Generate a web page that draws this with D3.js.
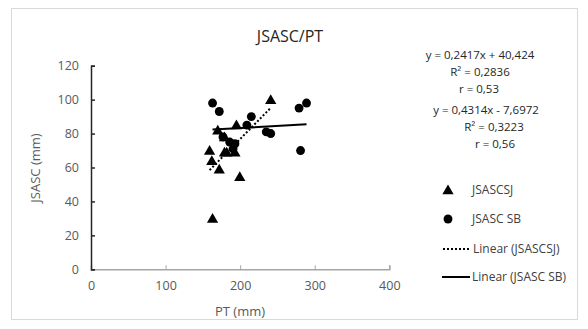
<!DOCTYPE html>
<html><head><meta charset="utf-8">
<script src="https://cdn.jsdelivr.net/npm/d3@7"></script>
<style>body{margin:0;background:#fff}text{font-family:"Open Sans",sans-serif}</style>
</head><body><svg id="c" width="588" height="329"></svg>
<script>
const title = "JSASC/PT";
const xTicks = [0,100,200,300,400];
const yTicks = [0,20,40,60,80,100,120];
const sjPT  = [159,162,163,170,172,179,179,182,193,195,199.5,241];
const sjVal = [70,64,30,82,59,78,69,69,69,85,54.5,100];
const sbPT  = [163,172,177,186,190.5,193,209,215,235,241,279,281,289];
const sbVal = [98,93,78,75,71,74,85,90,81,80,95,70,98];
const eqSJ = ["y = 0,2417x + 40,424","R² = 0,2836","r = 0,53"];
const eqSB = ["y = 0,4314x - 7,6972","R² = 0,3223","r = 0,56"];
const legendLabels = ["JSASCSJ","JSASC SB","Linear (JSASCSJ)","Linear (JSASC SB)"];

const svg = d3.select("#c");
svg.append("rect").attr("x",11.5).attr("y",8.5).attr("width",566).attr("height",311)
  .attr("fill","#fff").attr("stroke","#d9d9d9");

const x = d3.scaleLinear().domain([0,400]).range([91,389.3]);
const y = d3.scaleLinear().domain([0,120]).range([269.3,65.7]);

svg.append("text").attr("x",290).attr("y",42).attr("text-anchor","middle")
  .attr("font-size",16).attr("fill","#262626").text(title);

const gx = svg.append("g").attr("transform","translate(0,"+y(0)+")")
  .call(d3.axisBottom(x).tickValues(xTicks).tickSize(-4).tickPadding(12).tickFormat(d3.format("d")));
gx.select(".domain").attr("stroke","#a6a6a6").attr("stroke-width",1.5);
gx.selectAll(".tick line").attr("stroke","#a6a6a6");
gx.selectAll("text").attr("font-size",12.5).attr("fill","#595959").style("font-family","Open Sans");

const gy = svg.append("g").attr("transform","translate("+x(0)+",0)")
  .call(d3.axisLeft(y).tickValues(yTicks).tickSize(-4).tickPadding(12).tickFormat(d3.format("d")));
gy.select(".domain").attr("stroke","#262626").attr("stroke-width",1.5);
gy.selectAll(".tick line").attr("stroke","#262626").attr("stroke-width",1.5);
gy.selectAll("text").attr("font-size",12.5).attr("fill","#595959").style("font-family","Open Sans");

svg.append("text").attr("x",240).attr("y",316).attr("text-anchor","middle")
  .attr("font-size",13).attr("fill","#595959").text("PT (mm)");
svg.append("text").attr("transform","translate(40,168) rotate(-90)").attr("text-anchor","middle")
  .attr("font-size",13).attr("fill","#595959").text("JSASC (mm)");

function reg(xs, ys){
  const mx=d3.mean(xs), my=d3.mean(ys);
  let sxy=0,sxx=0; xs.forEach((v,i)=>{sxy+=(v-mx)*(ys[i]-my); sxx+=(v-mx)*(v-mx);});
  const b=sxy/sxx, a=my-b*mx; const [lo,hi]=d3.extent(xs);
  return [[lo,a+b*lo],[hi,a+b*hi]];
}
const line = d3.line().x(d=>x(d[0])).y(d=>y(d[1]));
const tri = d3.symbol().type(d3.symbolTriangle).size(55);
const circ = d3.symbol().type(d3.symbolCircle).size(62);

svg.append("g").selectAll("path").data(sbPT).join("path")
  .attr("d",circ).attr("transform",(d,i)=>"translate("+x(d)+","+y(sbVal[i])+")").attr("fill","#000");
svg.append("g").selectAll("path").data(sjPT).join("path")
  .attr("d",tri).attr("transform",(d,i)=>"translate("+x(d)+","+(y(sjVal[i])+1)+")").attr("fill","#000");

svg.append("path").attr("d",line(reg(sjPT,sjVal))).attr("fill","none").attr("stroke","#000")
  .attr("stroke-width",2).attr("stroke-dasharray","2,2");
svg.append("path").attr("d",line(reg(sbPT,sbVal))).attr("fill","none").attr("stroke","#000")
  .attr("stroke-width",2);

const eqX1=[480,480,479], eqX2=[486,494,495];
eqSJ.forEach((t,i)=>svg.append("text").attr("x",eqX1[i]).attr("y",59+i*17).attr("text-anchor","middle")
  .attr("font-size",11.5).attr("fill","#262626").text(t));
eqSB.forEach((t,i)=>svg.append("text").attr("x",eqX2[i]).attr("y",114+i*17).attr("text-anchor","middle")
  .attr("font-size",11.5).attr("fill","#262626").text(t));

const ly=[190,219,249,277];
const lg=svg.append("g");
lg.append("path").attr("d",tri).attr("transform","translate(448,"+(ly[0]+1)+")").attr("fill","#000");
lg.append("path").attr("d",circ).attr("transform","translate(448,"+ly[1]+")").attr("fill","#000");
lg.append("line").attr("x1",443).attr("x2",469).attr("y1",ly[2]).attr("y2",ly[2]).attr("stroke","#000")
  .attr("stroke-width",2).attr("stroke-dasharray","2,2");
lg.append("line").attr("x1",442).attr("x2",470).attr("y1",ly[3]).attr("y2",ly[3]).attr("stroke","#000")
  .attr("stroke-width",2);
const lx=[472,472,473,472];
legendLabels.forEach((t,i)=>lg.append("text").attr("x",lx[i]).attr("y",ly[i]+4).attr("font-size",12)
  .attr("fill","#404040").text(t));
</script></body></html>
